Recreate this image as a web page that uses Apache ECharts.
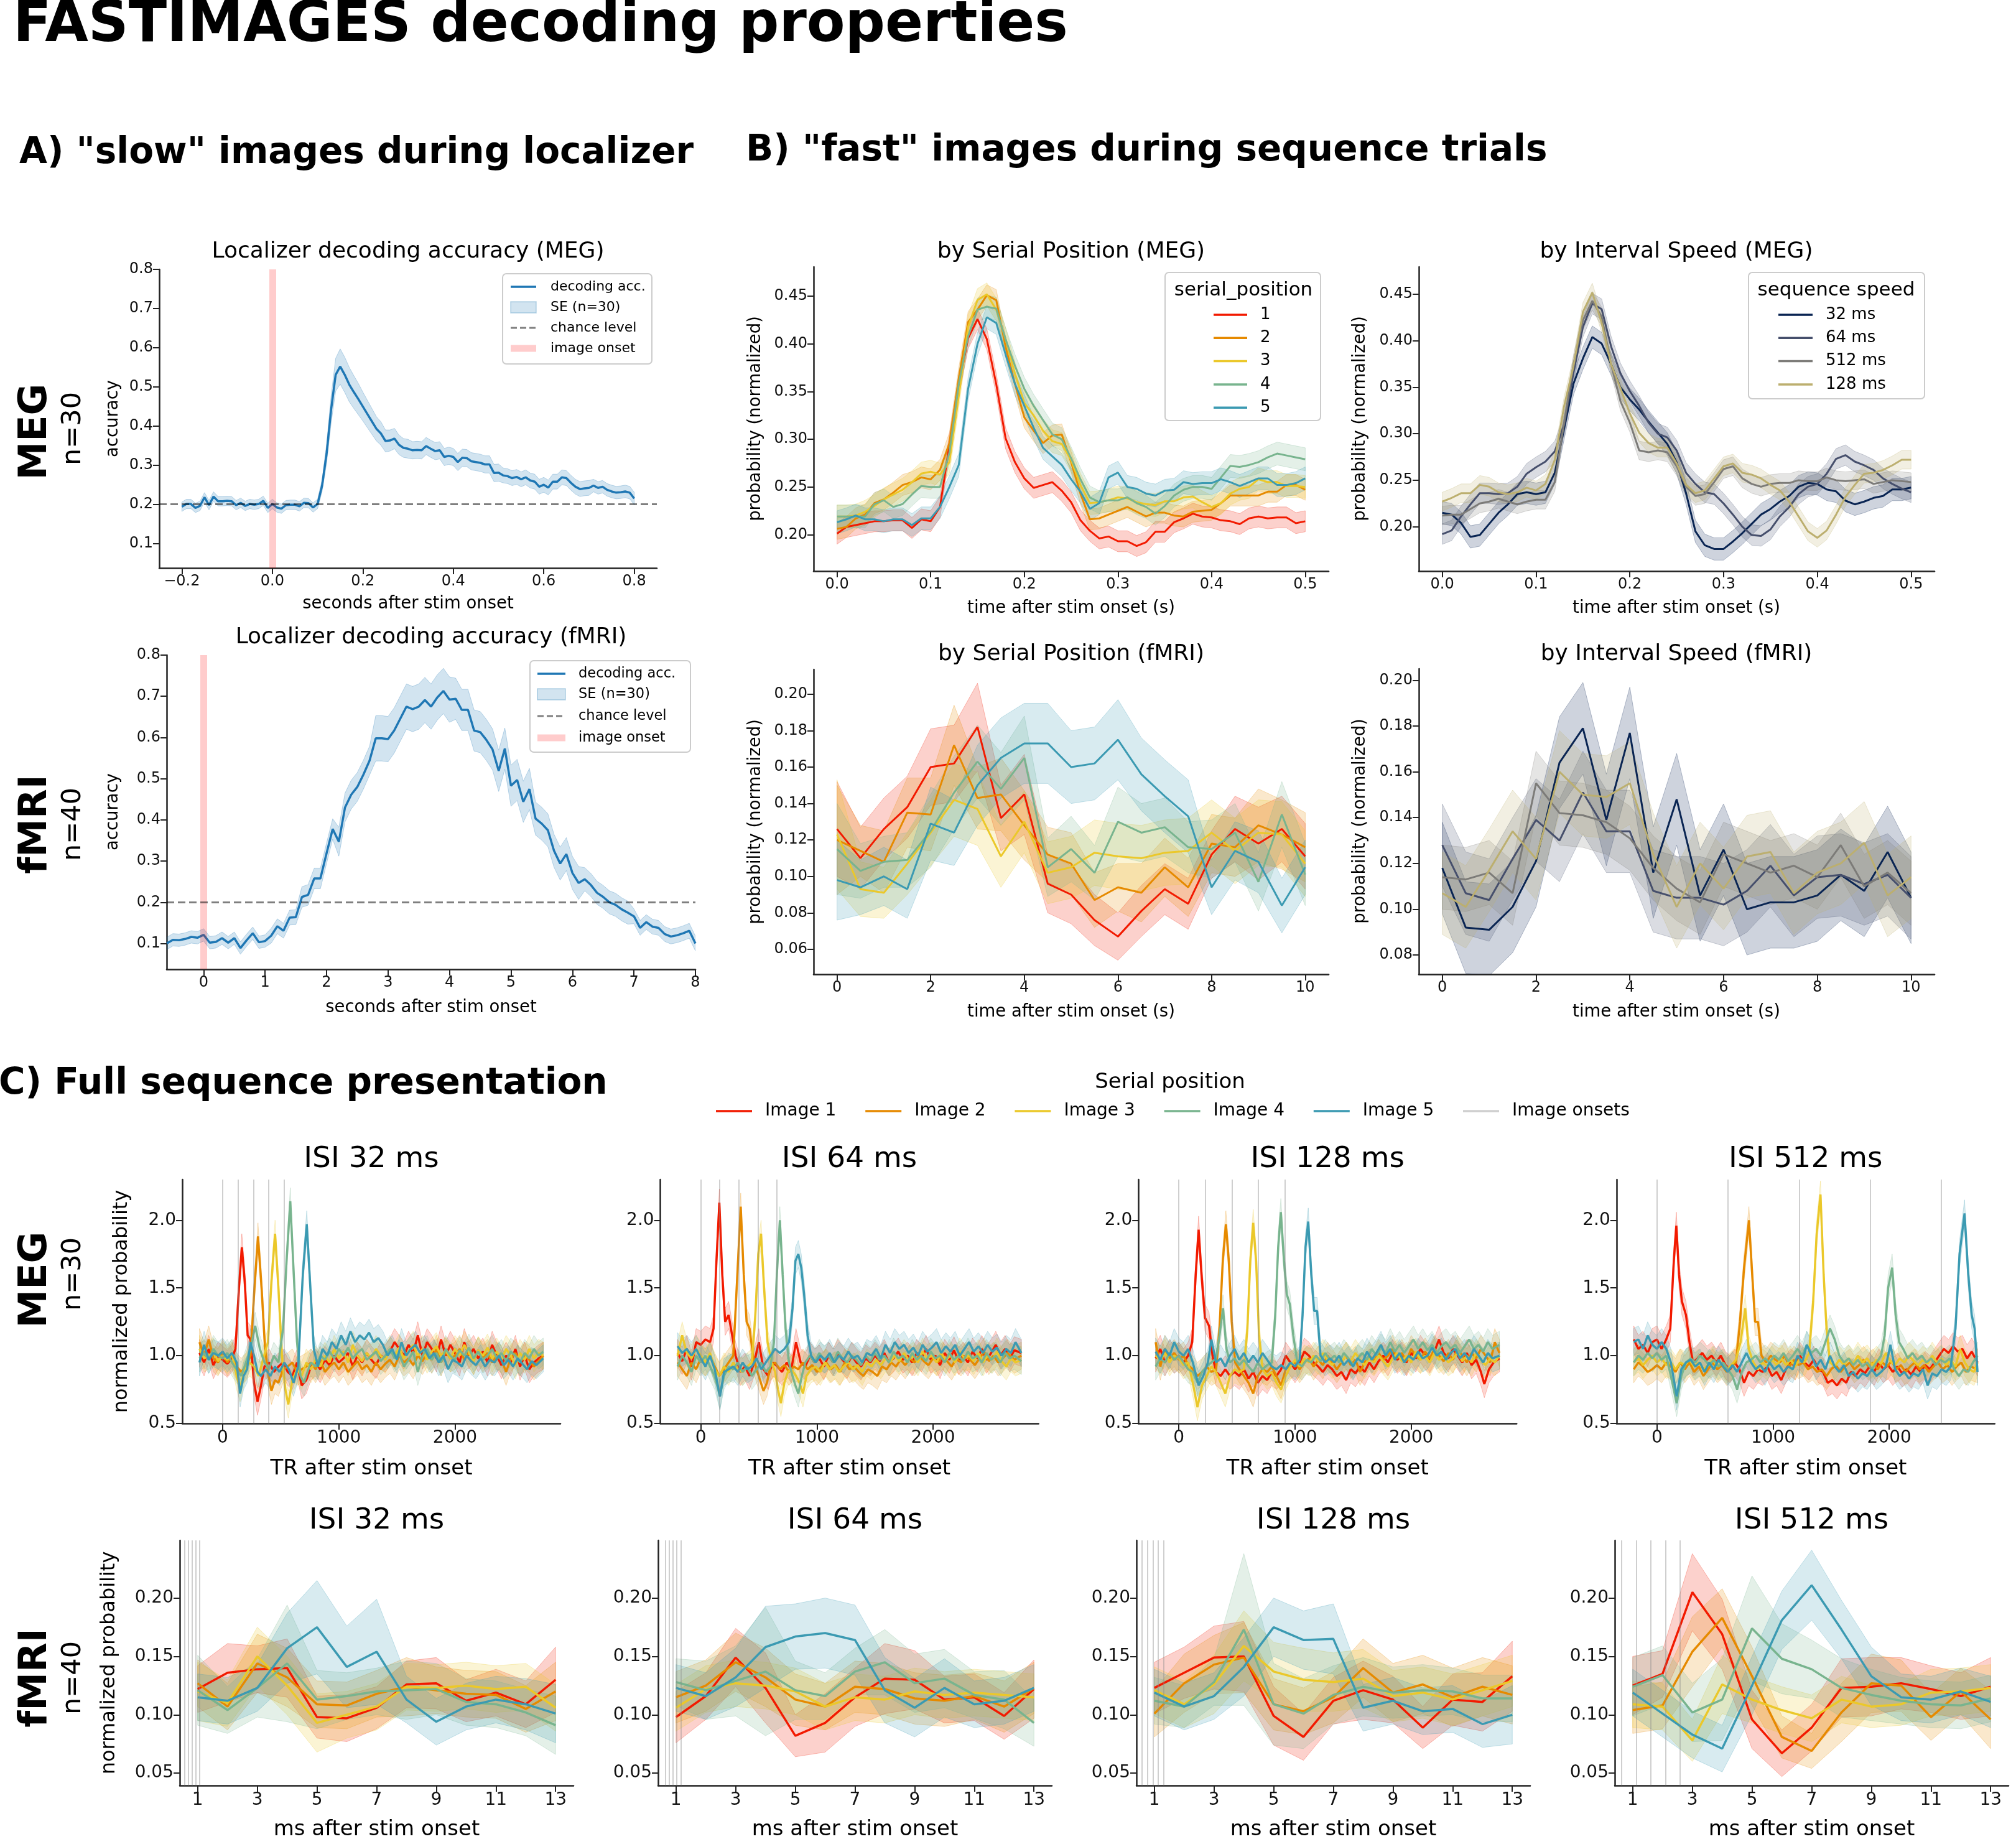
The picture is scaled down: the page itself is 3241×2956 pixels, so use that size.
<!DOCTYPE html>
<html>
<head>
<meta charset="utf-8">
<script src="https://cdn.jsdelivr.net/npm/echarts@6/dist/echarts.min.js"></script>
<style>
html, body { margin: 0; padding: 0; background: #fff; }
#main { width: 3241px; height: 2956px; }
</style>
</head>
<body>
<div id="main"></div>
<script>
// ---------------- data ----------------

// A) localizer decoding accuracy (MEG), -0.2 .. 0.8 s in 10 ms steps
const locMegAcc = [
  0.194,0.201,0.201,0.191,0.196,0.218,0.198,0.220,0.208,0.208,
  0.209,0.208,0.198,0.204,0.196,0.201,0.199,0.201,0.209,0.191,
  0.201,0.192,0.189,0.198,0.199,0.199,0.195,0.204,0.203,0.192,
  0.201,0.248,0.330,0.443,0.531,0.552,0.531,0.506,0.487,0.469,
  0.450,0.431,0.412,0.393,0.381,0.362,0.363,0.368,0.352,0.344,
  0.342,0.338,0.339,0.338,0.349,0.342,0.336,0.338,0.321,0.324,
  0.321,0.308,0.319,0.318,0.310,0.308,0.306,0.302,0.302,0.280,
  0.281,0.274,0.272,0.267,0.270,0.264,0.269,0.261,0.258,0.245,
  0.250,0.243,0.258,0.258,0.269,0.267,0.255,0.245,0.239,0.241,
  0.242,0.248,0.242,0.245,0.237,0.233,0.230,0.231,0.233,0.230,
  0.215];
const locMegSe = [
  0.012,0.012,0.012,0.012,0.012,0.012,0.012,0.012,0.012,0.012,
  0.012,0.012,0.012,0.012,0.012,0.012,0.012,0.012,0.012,0.012,
  0.012,0.012,0.012,0.012,0.012,0.012,0.012,0.012,0.012,0.012,
  0.012,0.015,0.025,0.035,0.042,0.045,0.045,0.044,0.042,0.040,
  0.037,0.035,0.033,0.031,0.030,0.028,0.027,0.026,0.025,0.024,
  0.024,0.022,0.022,0.022,0.022,0.022,0.022,0.022,0.022,0.022,
  0.022,0.022,0.022,0.022,0.022,0.022,0.022,0.022,0.022,0.022,
  0.022,0.019,0.019,0.019,0.019,0.019,0.019,0.019,0.019,0.019,
  0.019,0.019,0.019,0.019,0.019,0.019,0.019,0.019,0.019,0.019,
  0.019,0.016,0.016,0.016,0.016,0.016,0.016,0.016,0.016,0.016,
  0.016];

// A) localizer decoding accuracy (fMRI), -0.6 .. 8 s in 0.1 s steps
const locFmriAcc = [
  0.100,0.109,0.108,0.111,0.116,0.114,0.121,0.102,0.104,0.113,
  0.102,0.113,0.089,0.108,0.125,0.103,0.106,0.119,0.142,0.131,
  0.163,0.164,0.213,0.218,0.258,0.258,0.319,0.378,0.347,0.430,
  0.461,0.480,0.510,0.544,0.598,0.598,0.596,0.617,0.646,0.675,
  0.669,0.675,0.691,0.675,0.697,0.713,0.692,0.694,0.667,0.667,
  0.617,0.613,0.594,0.571,0.519,0.573,0.483,0.497,0.444,0.475,
  0.403,0.391,0.375,0.325,0.294,0.317,0.271,0.247,0.256,0.242,
  0.223,0.213,0.200,0.194,0.183,0.175,0.166,0.138,0.152,0.141,
  0.138,0.123,0.117,0.120,0.125,0.131,0.100];
const locFmriSe = [
  0.015,0.015,0.015,0.015,0.015,0.015,0.015,0.015,0.015,0.015,
  0.015,0.015,0.015,0.015,0.015,0.015,0.015,0.018,0.018,0.018,
  0.018,0.018,0.025,0.025,0.025,0.025,0.025,0.025,0.035,0.035,
  0.035,0.035,0.035,0.035,0.055,0.055,0.055,0.055,0.055,0.055,
  0.055,0.055,0.055,0.055,0.055,0.055,0.055,0.050,0.050,0.050,
  0.050,0.050,0.050,0.050,0.050,0.050,0.050,0.050,0.050,0.050,
  0.040,0.040,0.040,0.040,0.040,0.040,0.040,0.040,0.028,0.028,
  0.028,0.028,0.028,0.028,0.028,0.028,0.018,0.018,0.018,0.018,
  0.018,0.018,0.018,0.018,0.018,0.018,0.018];

// B) MEG, 0 .. 0.5 s in 10 ms steps, serial positions 1-5
const serMeg1 = [0.201,0.208,0.210,0.212,0.214,0.214,0.215,0.215,0.207,0.216,0.214,0.229,0.294,0.356,0.406,0.426,0.405,0.358,0.301,0.276,0.259,0.249,0.252,0.255,0.246,0.234,0.215,0.204,0.196,0.198,0.193,0.193,0.188,0.192,0.203,0.203,0.213,0.217,0.222,0.219,0.218,0.215,0.214,0.211,0.217,0.219,0.217,0.218,0.218,0.212,0.214];
const serMeg2 = [0.206,0.208,0.217,0.221,0.233,0.237,0.244,0.252,0.255,0.260,0.258,0.268,0.296,0.364,0.423,0.436,0.451,0.446,0.397,0.358,0.323,0.309,0.296,0.304,0.305,0.276,0.243,0.216,0.217,0.221,0.225,0.229,0.224,0.219,0.223,0.223,0.220,0.219,0.224,0.225,0.226,0.233,0.241,0.241,0.241,0.241,0.245,0.245,0.252,0.252,0.247];
const serMeg3 = [0.219,0.219,0.220,0.224,0.230,0.237,0.242,0.247,0.255,0.264,0.266,0.263,0.276,0.345,0.418,0.446,0.452,0.436,0.405,0.369,0.338,0.325,0.309,0.298,0.295,0.278,0.252,0.233,0.234,0.236,0.239,0.238,0.234,0.232,0.231,0.235,0.235,0.239,0.240,0.234,0.229,0.233,0.243,0.248,0.250,0.258,0.255,0.255,0.251,0.251,0.250];
const serMeg4 = [0.219,0.219,0.219,0.219,0.232,0.236,0.229,0.232,0.242,0.251,0.250,0.250,0.286,0.358,0.408,0.436,0.439,0.437,0.405,0.377,0.353,0.335,0.320,0.305,0.300,0.280,0.258,0.239,0.234,0.236,0.236,0.239,0.233,0.229,0.222,0.230,0.241,0.247,0.250,0.250,0.248,0.260,0.272,0.271,0.273,0.276,0.281,0.285,0.283,0.281,0.279];
const serMeg5 = [0.213,0.216,0.220,0.216,0.216,0.214,0.216,0.216,0.210,0.217,0.217,0.229,0.250,0.273,0.353,0.400,0.428,0.422,0.389,0.358,0.335,0.312,0.291,0.282,0.273,0.258,0.245,0.227,0.233,0.260,0.265,0.250,0.248,0.243,0.241,0.246,0.247,0.255,0.253,0.254,0.254,0.258,0.255,0.251,0.255,0.259,0.259,0.252,0.252,0.254,0.259];
const serMegSe = [0.011, 0.011, 0.012, 0.012, 0.012];

// B) MEG by interval speed (legend order 32, 64, 512, 128 ms)
const spdMeg32 = [0.215,0.213,0.204,0.189,0.191,0.203,0.215,0.224,0.235,0.237,0.235,0.237,0.258,0.306,0.354,0.381,0.404,0.397,0.375,0.350,0.337,0.326,0.313,0.301,0.289,0.269,0.236,0.195,0.180,0.176,0.176,0.184,0.193,0.203,0.213,0.219,0.227,0.233,0.243,0.247,0.246,0.240,0.238,0.228,0.224,0.227,0.231,0.233,0.240,0.240,0.242];
const spdMeg64 = [0.192,0.196,0.211,0.224,0.236,0.236,0.235,0.236,0.243,0.257,0.264,0.270,0.281,0.310,0.366,0.415,0.440,0.434,0.394,0.365,0.346,0.330,0.312,0.300,0.296,0.282,0.258,0.246,0.237,0.235,0.225,0.213,0.200,0.191,0.190,0.197,0.211,0.221,0.235,0.243,0.246,0.257,0.273,0.277,0.270,0.266,0.261,0.252,0.246,0.241,0.237];
const spdMeg512 = [0.212,0.213,0.213,0.219,0.225,0.227,0.230,0.227,0.224,0.227,0.229,0.229,0.248,0.312,0.375,0.422,0.443,0.426,0.375,0.335,0.312,0.282,0.280,0.282,0.280,0.265,0.243,0.233,0.235,0.248,0.262,0.265,0.252,0.246,0.243,0.246,0.247,0.247,0.250,0.249,0.249,0.253,0.250,0.249,0.250,0.251,0.246,0.248,0.250,0.249,0.248];
const spdMeg128 = [0.227,0.231,0.236,0.236,0.245,0.243,0.237,0.235,0.237,0.242,0.239,0.246,0.272,0.330,0.373,0.431,0.452,0.419,0.375,0.349,0.322,0.301,0.290,0.285,0.285,0.268,0.245,0.236,0.239,0.252,0.265,0.268,0.258,0.256,0.252,0.245,0.239,0.227,0.211,0.195,0.188,0.196,0.213,0.232,0.245,0.257,0.258,0.261,0.266,0.272,0.272];
const spdMegSe = [0.012, 0.011, 0.010, 0.010];

// B) fMRI, 0 .. 10 s in 0.5 s steps
const serFmri1 = [0.126,0.110,0.126,0.138,0.160,0.162,0.182,0.132,0.145,0.096,0.090,0.076,0.067,0.081,0.093,0.085,0.112,0.126,0.118,0.126,0.111];
const serFmri2 = [0.120,0.114,0.108,0.135,0.134,0.172,0.143,0.145,0.128,0.112,0.107,0.087,0.094,0.091,0.105,0.094,0.118,0.116,0.128,0.123,0.116];
const serFmri3 = [0.123,0.093,0.091,0.107,0.124,0.142,0.137,0.111,0.130,0.102,0.105,0.113,0.111,0.110,0.113,0.114,0.124,0.114,0.124,0.123,0.107];
const serFmri4 = [0.115,0.103,0.108,0.109,0.125,0.146,0.163,0.148,0.165,0.105,0.115,0.102,0.130,0.124,0.127,0.116,0.115,0.124,0.097,0.134,0.101];
const serFmri5 = [0.098,0.094,0.100,0.093,0.129,0.124,0.150,0.165,0.173,0.173,0.160,0.162,0.175,0.156,0.144,0.133,0.094,0.114,0.108,0.084,0.105];
const serFmriSe = [
  [0.026,0.017,0.017,0.017,0.021,0.021,0.024,0.018,0.022,0.016,0.016,0.014,0.013,0.014,0.014,0.014,0.013,0.018,0.020,0.018,0.018],
  [0.030,0.014,0.017,0.019,0.020,0.022,0.017,0.020,0.019,0.015,0.017,0.015,0.013,0.016,0.016,0.016,0.016,0.016,0.020,0.019,0.019],
  [0.030,0.015,0.014,0.017,0.018,0.020,0.020,0.017,0.017,0.017,0.017,0.018,0.018,0.018,0.018,0.018,0.018,0.018,0.018,0.018,0.018],
  [0.025,0.015,0.014,0.015,0.020,0.020,0.020,0.020,0.023,0.016,0.018,0.015,0.019,0.016,0.016,0.014,0.016,0.016,0.016,0.018,0.017],
  [0.022,0.015,0.016,0.016,0.020,0.018,0.022,0.022,0.022,0.022,0.020,0.020,0.022,0.020,0.020,0.020,0.015,0.016,0.017,0.015,0.015]];
const spdFmri32 = [0.118,0.092,0.091,0.101,0.121,0.164,0.179,0.139,0.177,0.116,0.148,0.106,0.126,0.100,0.103,0.103,0.106,0.115,0.108,0.125,0.105];
const spdFmri64 = [0.128,0.107,0.104,0.122,0.139,0.130,0.151,0.134,0.134,0.108,0.105,0.105,0.102,0.108,0.119,0.106,0.114,0.115,0.111,0.115,0.105];
const spdFmri512 = [0.114,0.113,0.116,0.107,0.155,0.142,0.141,0.138,0.131,0.118,0.109,0.103,0.124,0.120,0.116,0.119,0.114,0.128,0.110,0.116,0.107];
const spdFmri128 = [0.107,0.101,0.117,0.134,0.122,0.160,0.150,0.149,0.155,0.124,0.101,0.120,0.109,0.123,0.125,0.107,0.116,0.120,0.129,0.106,0.114];
const spdFmriSe = [0.020, 0.018, 0.014, 0.018];

// C) MEG full sequence, [ms, normalized probability]
const isi32Img1 = [[-200,1.02],[-160,0.95],[-120,1.05],[-80,0.93],[-40,1.0],[0,0.97],[40,0.94],[80,0.98],[110,1.05],[140,1.5],[165,1.8],[190,1.55],[215,1.15],[240,1.12],[270,0.8],[300,0.66],[330,0.78],[360,0.92],[400,0.95],[440,0.88],[480,0.92],[520,0.95],[560,0.88],[600,0.85],[640,0.95],[680,0.78],[720,0.82],[760,0.92],[800,0.95],[840,0.9],[880,0.97],[920,0.93],[960,1.0],[1000,0.95],[1040,0.98],[1080,1.02],[1120,0.92],[1160,1.0],[1200,0.95],[1240,1.02],[1280,0.97],[1320,0.93],[1360,1.0],[1400,0.98],[1440,1.03],[1480,1.1],[1520,1.05],[1560,1.0],[1600,1.08],[1640,1.02],[1680,1.15],[1720,1.0],[1760,1.1],[1800,1.05],[1840,0.98],[1880,1.12],[1920,1.0],[1960,1.08],[2000,1.02],[2040,0.95],[2080,1.1],[2120,1.0],[2160,1.05],[2200,0.98],[2240,1.03],[2280,0.95],[2320,1.08],[2360,1.0],[2400,0.93],[2440,1.0],[2480,0.95],[2520,1.05],[2560,0.92],[2600,1.0],[2640,0.9],[2680,0.95],[2720,0.98],[2760,1.0]];
const isi32Img2 = [[-200,1.1],[-160,1.0],[-120,1.12],[-80,0.98],[-40,0.95],[0,1.02],[40,0.95],[80,1.0],[120,0.92],[160,0.88],[200,0.92],[240,1.0],[270,1.45],[304,1.88],[335,1.5],[365,1.05],[395,0.85],[420,0.74],[450,0.82],[480,0.8],[520,0.9],[560,0.92],[600,0.95],[640,0.88],[680,0.9],[720,0.92],[760,0.95],[800,0.9],[840,0.97],[880,0.88],[920,0.92],[960,0.95],[1000,0.9],[1040,0.95],[1080,0.88],[1120,0.92],[1160,0.96],[1200,0.9],[1240,0.93],[1280,0.88],[1320,0.95],[1360,0.9],[1400,0.94],[1440,0.97],[1480,0.92],[1520,1.0],[1560,0.95],[1600,0.98],[1640,0.93],[1680,1.0],[1720,0.96],[1760,1.02],[1800,0.97],[1840,1.05],[1880,0.95],[1920,1.03],[1960,0.98],[2000,1.0],[2040,1.05],[2080,0.97],[2120,1.02],[2160,0.96],[2200,1.04],[2240,0.98],[2280,1.02],[2320,0.95],[2360,1.0],[2400,0.97],[2440,0.88],[2480,0.98],[2520,1.02],[2560,0.95],[2600,1.0],[2640,0.97],[2680,0.92],[2720,0.96],[2760,1.0]];
const isi32Img3 = [[-200,1.05],[-160,0.98],[-120,1.0],[-80,1.03],[-40,0.96],[0,1.0],[40,0.97],[80,1.02],[120,0.85],[150,0.76],[190,0.9],[230,0.95],[270,0.92],[310,0.85],[350,0.98],[390,1.1],[420,1.55],[451,1.9],[480,1.5],[510,1.0],[540,0.75],[565,0.64],[600,0.82],[640,0.9],[680,0.85],[720,0.95],[760,0.9],[800,0.97],[840,0.92],[880,1.0],[920,0.95],[960,1.05],[1000,0.98],[1040,1.03],[1080,0.95],[1120,1.08],[1160,1.0],[1200,0.96],[1240,1.02],[1280,0.98],[1320,1.05],[1360,1.0],[1400,0.97],[1440,1.04],[1480,1.0],[1520,1.06],[1560,0.98],[1600,1.03],[1640,1.08],[1680,1.0],[1720,1.05],[1760,0.97],[1800,1.03],[1840,1.07],[1880,1.0],[1920,1.04],[1960,0.98],[2000,1.05],[2040,1.0],[2080,1.08],[2120,1.02],[2160,0.96],[2200,1.04],[2240,1.0],[2280,1.06],[2320,0.98],[2360,1.03],[2400,0.97],[2440,1.05],[2480,1.0],[2520,0.93],[2560,1.02],[2600,0.97],[2640,1.05],[2680,0.98],[2720,1.02],[2760,1.0]];
const isi32Img4 = [[-200,0.98],[-160,1.02],[-120,0.97],[-80,1.05],[-40,1.0],[0,0.98],[40,1.02],[80,0.95],[120,0.9],[160,0.85],[200,0.95],[240,1.05],[280,1.22],[320,1.05],[360,0.95],[400,0.9],[440,1.0],[480,0.95],[520,1.2],[550,1.7],[582,2.14],[612,1.6],[640,1.1],[670,0.85],[700,0.8],[730,0.88],[760,0.95],[800,0.92],[840,1.0],[880,0.97],[920,1.03],[960,0.98],[1000,1.05],[1040,1.0],[1080,1.06],[1120,0.98],[1160,1.02],[1200,1.05],[1240,0.97],[1280,1.0],[1320,1.03],[1360,0.96],[1400,1.0],[1440,1.05],[1480,0.98],[1520,1.02],[1560,0.92],[1600,0.97],[1640,1.03],[1680,0.88],[1720,1.0],[1760,1.05],[1800,0.97],[1840,1.02],[1880,0.95],[1920,1.05],[1960,1.0],[2000,0.97],[2040,1.04],[2080,1.0],[2120,1.06],[2160,0.98],[2200,1.03],[2240,0.97],[2280,1.0],[2320,1.05],[2360,0.98],[2400,1.02],[2440,0.96],[2480,1.03],[2520,1.0],[2560,0.95],[2600,1.02],[2640,0.98],[2680,1.05],[2720,1.0],[2760,1.03]];
const isi32Img5 = [[-200,0.95],[-160,1.08],[-120,0.97],[-80,1.02],[-40,1.0],[0,1.03],[40,0.98],[80,1.02],[120,0.95],[150,0.72],[180,0.85],[210,0.9],[240,1.1],[270,1.0],[300,0.88],[330,0.85],[370,0.9],[410,0.85],[450,0.92],[490,0.88],[530,0.95],[570,0.9],[610,0.8],[650,0.92],[690,1.6],[724,1.97],[755,1.5],[785,1.05],[820,0.92],[860,1.05],[900,1.0],[940,1.1],[980,1.05],[1020,1.15],[1060,1.08],[1100,1.18],[1140,1.1],[1180,1.15],[1220,1.12],[1260,1.17],[1300,1.1],[1340,1.13],[1380,1.08],[1420,1.0],[1460,1.05],[1500,0.97],[1540,1.1],[1580,1.0],[1620,1.05],[1660,1.08],[1700,1.02],[1740,1.05],[1780,0.98],[1820,1.02],[1860,0.95],[1900,1.0],[1940,0.9],[1980,0.97],[2020,0.95],[2060,0.92],[2100,1.0],[2140,0.96],[2180,0.93],[2220,0.98],[2260,0.92],[2300,0.97],[2340,0.95],[2380,1.0],[2420,0.93],[2460,0.97],[2500,0.92],[2540,0.98],[2580,0.94],[2620,0.9],[2660,0.96],[2700,0.93],[2760,0.98]];

const isi64Img1 = [[-200,1.02],[-160,0.96],[-120,1.05],[-80,0.92],[-40,1.1],[0,1.08],[40,1.12],[80,1.1],[110,1.2],[135,1.7],[160,2.13],[185,1.6],[210,1.25],[240,1.3],[270,1.15],[300,1.0],[340,0.88],[380,0.92],[420,0.85],[460,0.95],[500,1.1],[540,0.9],[580,0.85],[620,0.95],[660,0.92],[700,0.88],[740,0.95],[780,0.9],[820,1.1],[860,0.95],[900,0.92],[940,1.0],[980,0.95],[1020,0.98],[1060,0.92],[1100,1.0],[1140,0.95],[1180,1.02],[1220,0.97],[1260,0.93],[1300,1.0],[1340,0.95],[1380,0.92],[1420,0.98],[1460,0.95],[1500,1.0],[1540,0.96],[1580,1.02],[1620,0.95],[1660,0.98],[1700,1.03],[1740,0.97],[1780,1.0],[1820,0.95],[1860,1.02],[1900,0.98],[1940,1.05],[1980,0.97],[2020,1.0],[2060,0.93],[2100,1.02],[2140,0.97],[2180,1.04],[2220,0.96],[2260,1.0],[2300,0.95],[2340,1.03],[2380,0.98],[2420,1.05],[2460,0.97],[2500,1.02],[2540,1.08],[2580,1.0],[2620,1.05],[2660,0.98],[2700,1.04],[2760,1.02]];
const isi64Img2 = [[-200,0.95],[-160,0.9],[-120,0.85],[-80,0.95],[-40,0.9],[0,0.98],[40,0.95],[80,1.0],[120,0.92],[160,0.85],[200,0.9],[240,0.95],[280,1.0],[315,1.6],[344,2.1],[370,1.6],[395,1.25],[420,1.2],[450,1.0],[480,0.9],[510,0.82],[540,0.74],[570,0.8],[600,0.92],[640,0.95],[680,0.9],[720,0.93],[760,0.88],[800,0.92],[840,0.9],[880,0.95],[920,0.9],[960,0.93],[1000,0.88],[1040,0.92],[1080,0.95],[1120,0.9],[1160,0.93],[1200,0.88],[1240,0.95],[1280,0.9],[1320,0.92],[1360,0.88],[1400,0.85],[1440,0.9],[1480,0.88],[1520,0.85],[1560,0.92],[1600,0.9],[1640,0.95],[1680,0.92],[1720,0.97],[1760,0.93],[1800,0.98],[1840,0.95],[1880,1.0],[1920,0.96],[1960,0.93],[2000,0.98],[2040,0.95],[2080,1.0],[2120,0.96],[2160,0.92],[2200,0.98],[2240,0.95],[2280,1.0],[2320,0.97],[2360,0.93],[2400,0.98],[2440,1.03],[2480,0.96],[2520,1.0],[2560,0.95],[2600,0.98],[2640,1.02],[2700,0.97],[2760,1.0]];
const isi64Img3 = [[-200,1.0],[-160,1.15],[-120,1.02],[-80,0.98],[-40,1.05],[0,1.0],[40,0.95],[80,1.02],[120,0.9],[160,0.85],[200,0.92],[240,0.88],[280,0.95],[320,0.9],[360,0.88],[400,0.92],[440,0.95],[470,1.3],[495,1.75],[519,1.9],[545,1.5],[575,1.1],[610,0.95],[640,0.88],[665,0.75],[690,0.65],[720,0.8],[750,0.88],[780,0.9],[820,0.85],[850,0.8],[880,0.72],[910,0.85],[950,0.9],[990,0.92],[1030,0.88],[1070,0.95],[1110,0.9],[1150,0.93],[1190,0.88],[1230,0.92],[1270,0.95],[1310,0.9],[1350,0.93],[1390,0.88],[1430,0.95],[1470,0.92],[1510,0.97],[1550,0.93],[1590,0.98],[1630,0.95],[1670,1.0],[1710,0.96],[1750,1.02],[1790,0.97],[1830,1.0],[1870,0.95],[1910,1.03],[1950,0.98],[1990,1.0],[2030,0.95],[2070,1.02],[2110,0.97],[2150,1.0],[2190,0.95],[2230,1.03],[2270,0.98],[2310,1.0],[2350,0.96],[2390,1.02],[2430,0.95],[2470,1.0],[2510,0.97],[2550,1.03],[2590,0.96],[2630,0.92],[2670,0.98],[2710,0.95],[2760,0.97]];
const isi64Img4 = [[-200,0.92],[-160,1.0],[-120,0.95],[-80,0.88],[-40,1.0],[0,0.95],[40,1.0],[80,0.92],[120,0.85],[165,0.7],[200,0.85],[240,0.92],[280,0.9],[320,0.95],[360,0.88],[400,0.92],[440,0.85],[480,0.9],[520,0.95],[560,0.88],[600,0.92],[630,1.1],[655,1.6],[681,2.0],[705,1.6],[730,1.2],[760,0.95],[790,0.85],[815,0.78],[840,0.72],[870,0.85],[900,0.95],[940,1.0],[980,0.95],[1020,1.02],[1060,0.97],[1100,1.0],[1140,0.95],[1180,1.03],[1220,0.98],[1260,0.95],[1300,1.0],[1340,0.97],[1380,0.93],[1420,1.0],[1460,0.96],[1500,1.02],[1540,0.97],[1580,1.0],[1620,0.95],[1660,1.03],[1700,0.98],[1740,1.0],[1780,0.95],[1820,1.02],[1860,0.97],[1900,1.0],[1940,0.96],[1980,1.03],[2020,0.98],[2060,1.0],[2100,0.95],[2140,1.02],[2180,0.97],[2220,1.0],[2260,0.96],[2300,1.03],[2340,0.98],[2380,1.0],[2420,0.95],[2460,1.02],[2500,0.97],[2540,1.0],[2580,0.95],[2620,1.02],[2660,0.98],[2700,1.0],[2760,0.96]];
const isi64Img5 = [[-200,1.07],[-160,1.02],[-120,1.05],[-80,1.0],[-40,1.05],[0,0.98],[40,0.92],[80,1.0],[120,0.9],[165,0.7],[200,0.88],[240,0.9],[280,0.92],[320,0.88],[360,0.95],[400,0.9],[440,0.92],[480,0.98],[520,0.9],[560,0.95],[600,1.0],[640,1.05],[680,1.02],[720,1.05],[760,1.1],[790,1.35],[815,1.7],[840,1.75],[865,1.65],[890,1.45],[920,1.15],[950,1.0],[990,0.95],[1030,1.0],[1070,0.97],[1110,1.02],[1150,0.95],[1190,1.0],[1230,0.97],[1270,1.03],[1310,0.98],[1350,1.0],[1390,0.95],[1430,1.02],[1470,1.0],[1510,1.05],[1550,0.98],[1590,1.08],[1630,1.02],[1670,1.1],[1710,1.05],[1750,1.08],[1790,1.02],[1830,1.06],[1870,1.0],[1910,1.08],[1950,1.03],[1990,1.06],[2030,1.1],[2070,1.02],[2110,1.07],[2150,1.03],[2190,1.08],[2230,1.0],[2270,1.05],[2310,1.1],[2350,1.03],[2390,1.07],[2430,1.02],[2470,1.08],[2510,1.03],[2550,1.06],[2590,1.0],[2630,1.05],[2670,1.02],[2710,1.1],[2760,1.02]];

const isi128Img1 = [[-200,0.98],[-160,1.05],[-120,0.95],[-80,1.02],[-40,0.97],[0,1.0],[40,0.95],[80,1.0],[115,1.1],[145,1.6],[170,1.93],[195,1.6],[225,1.28],[260,1.22],[290,1.0],[320,0.88],[360,0.85],[400,0.9],[440,0.85],[480,0.88],[520,0.85],[560,0.9],[600,0.83],[640,0.88],[680,0.8],[720,0.85],[760,0.82],[800,0.88],[840,0.85],[880,0.9],[920,1.0],[960,0.95],[1000,0.9],[1040,0.95],[1080,1.03],[1120,1.0],[1160,0.95],[1200,0.92],[1240,0.88],[1280,0.93],[1320,0.9],[1360,0.85],[1400,0.88],[1440,0.82],[1480,0.9],[1520,0.87],[1560,0.92],[1600,0.88],[1640,0.95],[1680,0.9],[1720,0.96],[1760,1.0],[1800,0.95],[1840,1.02],[1880,0.97],[1920,1.0],[1960,0.95],[2000,1.02],[2040,0.98],[2080,1.05],[2120,1.0],[2160,0.97],[2200,1.03],[2240,1.12],[2280,1.02],[2320,0.98],[2360,1.05],[2400,1.0],[2440,0.95],[2480,1.02],[2520,0.93],[2560,0.97],[2600,0.88],[2630,0.79],[2670,0.9],[2710,0.95],[2760,0.98]];
const isi128Img2 = [[-200,1.1],[-160,0.92],[-120,1.05],[-80,0.98],[-40,1.02],[0,0.97],[40,1.0],[80,0.93],[120,0.9],[160,0.85],[200,0.88],[240,0.92],[280,0.88],[320,0.9],[350,1.2],[378,1.7],[405,1.97],[430,1.7],[455,1.25],[485,0.95],[520,0.9],[560,0.85],[600,0.8],[640,0.72],[680,0.85],[720,0.9],[760,0.88],[800,0.92],[840,0.85],[880,0.78],[920,0.9],[960,0.93],[1000,0.95],[1040,0.9],[1080,0.95],[1120,0.98],[1160,0.92],[1200,0.97],[1240,0.93],[1280,1.0],[1320,0.95],[1360,0.9],[1400,0.95],[1440,1.0],[1480,0.93],[1520,0.97],[1560,0.88],[1600,0.95],[1640,1.0],[1680,0.96],[1720,1.02],[1760,0.97],[1800,1.0],[1840,1.05],[1880,0.98],[1920,1.02],[1960,0.96],[2000,1.05],[2040,1.0],[2080,0.97],[2120,1.03],[2160,0.98],[2200,1.05],[2240,1.0],[2280,0.96],[2320,1.02],[2360,0.97],[2400,1.05],[2440,1.0],[2480,0.95],[2520,1.02],[2560,0.98],[2600,1.05],[2640,1.0],[2680,0.95],[2720,1.1],[2760,1.02]];
const isi128Img3 = [[-200,1.0],[-160,0.97],[-120,1.02],[-80,0.95],[-40,1.0],[0,0.98],[40,0.93],[80,0.95],[120,0.8],[160,0.62],[200,0.78],[240,0.85],[280,0.92],[320,0.88],[360,0.8],[400,0.72],[440,0.85],[480,0.9],[520,0.88],[560,0.9],[590,1.2],[615,1.7],[640,1.98],[665,1.7],[690,1.15],[720,0.9],[760,0.85],[800,0.88],[840,0.8],[880,0.75],[920,0.85],[960,0.92],[1000,0.97],[1040,0.92],[1080,0.98],[1120,0.95],[1160,1.0],[1200,0.96],[1240,1.02],[1280,0.97],[1320,0.93],[1360,0.98],[1400,0.95],[1440,1.0],[1480,0.96],[1520,1.02],[1560,0.97],[1600,0.93],[1640,0.98],[1680,0.95],[1720,1.0],[1760,0.96],[1800,0.92],[1840,0.98],[1880,1.02],[1920,0.96],[1960,1.0],[2000,0.95],[2040,1.03],[2080,0.97],[2120,1.0],[2160,0.95],[2200,1.02],[2240,0.97],[2280,1.0],[2320,0.95],[2360,0.98],[2400,1.02],[2440,0.96],[2480,1.0],[2520,0.95],[2560,1.02],[2600,0.97],[2640,0.93],[2680,0.98],[2720,0.95],[2760,1.0]];
const isi128Img4 = [[-200,0.92],[-160,0.98],[-120,0.95],[-80,1.02],[-40,0.97],[0,1.0],[40,0.95],[80,0.9],[120,0.88],[160,0.8],[200,0.88],[240,0.92],[280,0.95],[320,0.98],[350,1.15],[380,1.35],[410,1.05],[440,0.95],[480,0.98],[520,0.93],[560,0.97],[600,0.92],[640,0.88],[680,0.95],[720,0.9],[760,0.93],[800,0.95],[830,1.3],[855,1.8],[878,2.06],[905,1.7],[930,1.45],[955,1.38],[985,1.15],[1020,0.95],[1060,0.92],[1100,0.97],[1140,0.95],[1180,1.0],[1220,0.96],[1260,1.02],[1300,0.97],[1340,1.0],[1380,0.95],[1420,1.02],[1460,0.98],[1500,0.93],[1540,0.98],[1580,1.02],[1620,0.97],[1660,1.05],[1700,1.0],[1740,1.06],[1780,1.02],[1820,1.1],[1860,1.03],[1900,1.08],[1940,1.02],[1980,1.07],[2020,1.12],[2060,1.05],[2100,1.1],[2140,1.04],[2180,1.08],[2220,1.02],[2260,1.07],[2300,1.1],[2340,1.05],[2380,1.08],[2420,1.02],[2460,1.07],[2500,1.12],[2540,1.05],[2580,1.08],[2620,1.03],[2660,1.1],[2700,1.05],[2760,1.08]];
const isi128Img5 = [[-200,1.03],[-160,0.97],[-120,1.05],[-80,1.0],[-40,1.1],[0,1.03],[40,1.0],[80,1.05],[120,0.95],[170,0.78],[210,0.85],[250,0.95],[280,1.12],[320,0.95],[360,0.98],[400,0.92],[440,1.0],[480,1.05],[520,0.97],[560,1.02],[600,0.95],[640,1.0],[680,0.95],[720,1.02],[760,0.97],[800,0.92],[840,0.9],[880,0.93],[920,0.9],[960,0.95],[1000,0.92],[1040,0.97],[1065,1.3],[1090,1.8],[1114,1.99],[1140,1.6],[1165,1.33],[1190,1.33],[1220,1.0],[1260,0.95],[1300,0.98],[1340,0.95],[1380,1.0],[1420,0.93],[1460,0.97],[1500,0.92],[1540,0.98],[1580,0.95],[1620,1.03],[1660,0.97],[1700,1.02],[1740,1.08],[1780,1.0],[1820,1.05],[1860,0.97],[1900,1.02],[1940,0.95],[1980,1.0],[2020,0.97],[2060,1.03],[2100,0.98],[2140,1.0],[2180,1.06],[2220,1.0],[2260,1.03],[2300,0.97],[2340,1.02],[2380,1.05],[2420,0.98],[2460,1.02],[2500,0.97],[2540,1.05],[2580,1.0],[2620,0.95],[2660,1.02],[2700,0.98],[2760,1.0]];

const isi512Img1 = [[-200,1.12],[-160,1.05],[-120,1.08],[-80,1.02],[-40,1.1],[0,1.12],[40,1.05],[80,1.12],[115,1.2],[145,1.7],[167,1.96],[190,1.6],[215,1.4],[250,1.3],[280,1.1],[310,0.95],[350,0.98],[390,1.02],[430,0.97],[470,1.0],[510,0.95],[550,1.0],[590,0.93],[630,0.9],[670,0.95],[710,0.9],[750,0.8],[790,0.88],[830,0.85],[870,0.9],[910,0.88],[950,0.92],[990,0.85],[1030,0.88],[1070,0.82],[1110,0.9],[1150,0.95],[1190,0.92],[1230,1.0],[1270,0.95],[1310,0.92],[1350,0.97],[1390,0.9],[1430,0.88],[1470,0.8],[1510,0.82],[1550,0.78],[1590,0.83],[1630,0.8],[1670,0.88],[1710,0.85],[1750,0.9],[1790,0.87],[1830,0.92],[1870,0.88],[1910,0.95],[1950,0.9],[1990,0.93],[2030,0.88],[2070,0.92],[2110,0.87],[2150,0.9],[2190,0.86],[2230,0.92],[2270,0.88],[2310,0.93],[2350,0.9],[2390,0.95],[2430,1.0],[2470,1.05],[2510,1.02],[2550,1.07],[2590,1.03],[2630,1.05],[2670,0.98],[2710,1.03],[2760,0.95]];
const isi512Img2 = [[-200,0.9],[-160,0.95],[-120,0.92],[-80,0.88],[-40,0.9],[0,0.93],[40,0.9],[80,0.95],[120,0.92],[160,0.88],[200,0.95],[240,0.9],[280,0.95],[320,0.88],[360,0.92],[400,0.85],[440,0.9],[480,0.95],[520,0.9],[560,0.93],[600,0.88],[640,0.92],[680,0.95],[715,1.25],[750,1.65],[792,2.0],[820,1.6],[845,1.25],[870,1.25],[900,1.0],[940,0.95],[980,1.0],[1020,0.97],[1060,0.95],[1100,1.0],[1140,0.92],[1180,0.97],[1220,0.93],[1260,0.95],[1300,0.9],[1340,0.92],[1380,0.88],[1420,0.9],[1460,0.85],[1500,0.9],[1540,0.93],[1580,0.88],[1620,0.92],[1660,0.95],[1700,0.9],[1740,0.93],[1780,0.97],[1820,0.92],[1860,0.95],[1900,0.9],[1940,0.95],[1980,0.92],[2020,0.96],[2060,0.9],[2100,0.93],[2140,0.88],[2180,0.92],[2220,0.95],[2260,0.9],[2300,0.93],[2340,0.88],[2380,0.92],[2420,0.95],[2460,0.9],[2500,0.93],[2540,0.88],[2580,0.92],[2620,0.95],[2660,0.88],[2700,0.92],[2760,0.9]];
const isi512Img3 = [[-200,0.95],[-160,0.98],[-120,0.93],[-80,0.97],[-40,1.0],[0,0.95],[40,0.98],[80,0.93],[120,0.95],[160,0.9],[200,0.95],[240,0.93],[280,0.97],[320,0.92],[360,0.95],[400,0.9],[440,0.93],[480,0.97],[520,0.92],[560,0.95],[600,0.9],[640,0.93],[680,0.97],[720,1.1],[760,1.35],[790,1.05],[830,0.95],[870,0.9],[910,0.95],[950,0.92],[990,0.97],[1030,0.93],[1070,0.98],[1110,0.93],[1150,0.97],[1190,0.92],[1230,0.98],[1270,0.95],[1310,1.02],[1345,1.4],[1375,1.9],[1408,2.19],[1435,1.6],[1460,1.2],[1490,0.95],[1530,0.92],[1570,0.97],[1610,0.93],[1650,0.98],[1690,0.94],[1730,1.0],[1770,0.95],[1810,0.98],[1850,0.93],[1890,0.97],[1930,0.94],[1970,1.02],[2010,0.96],[2050,0.93],[2090,0.98],[2130,0.95],[2170,1.0],[2210,0.96],[2250,0.93],[2290,0.97],[2330,0.94],[2370,1.0],[2410,0.95],[2450,0.98],[2490,0.93],[2530,0.97],[2570,0.92],[2610,1.05],[2650,0.95],[2690,0.9],[2730,0.88],[2760,0.95]];
const isi512Img4 = [[-200,0.95],[-160,1.0],[-120,0.97],[-80,1.02],[-40,0.98],[0,1.02],[40,0.97],[80,1.0],[120,0.85],[170,0.65],[210,0.85],[250,0.95],[290,0.98],[330,0.95],[370,1.0],[410,0.97],[450,0.93],[490,0.97],[530,0.92],[570,0.95],[610,0.9],[650,0.85],[690,0.75],[730,0.88],[770,0.95],[810,0.97],[850,1.0],[890,0.95],[930,0.98],[970,0.95],[1010,1.0],[1050,0.97],[1090,1.02],[1130,0.96],[1170,1.0],[1210,1.05],[1250,1.0],[1290,1.08],[1330,1.02],[1370,1.05],[1410,1.0],[1450,1.1],[1490,1.2],[1530,1.12],[1570,1.0],[1610,0.95],[1650,0.98],[1690,0.93],[1730,0.97],[1770,0.92],[1810,0.95],[1850,0.9],[1890,0.95],[1930,1.0],[1960,1.15],[1990,1.5],[2025,1.65],[2055,1.3],[2085,1.1],[2120,1.05],[2160,0.98],[2200,1.02],[2240,0.97],[2280,1.0],[2320,0.95],[2360,0.98],[2400,0.93],[2440,0.97],[2480,0.95],[2520,0.98],[2560,0.9],[2600,0.85],[2640,0.9],[2680,0.88],[2720,0.95],[2760,1.0]];
const isi512Img5 = [[-200,1.1],[-160,1.12],[-120,1.05],[-80,1.15],[-40,1.08],[0,1.05],[40,1.1],[80,1.05],[120,0.95],[170,0.7],[210,0.9],[250,0.95],[290,0.97],[330,0.92],[370,0.95],[410,0.88],[450,0.95],[490,0.9],[530,0.97],[570,0.92],[610,0.88],[650,0.93],[690,0.88],[730,0.95],[770,1.02],[810,0.95],[850,0.9],[890,0.93],[930,0.88],[970,0.95],[1010,0.9],[1050,0.93],[1090,0.88],[1130,0.92],[1170,0.9],[1210,1.0],[1250,0.95],[1290,1.08],[1330,1.0],[1370,0.92],[1410,0.97],[1450,0.9],[1490,1.0],[1530,0.92],[1570,0.88],[1610,0.93],[1650,0.85],[1690,0.88],[1730,0.83],[1770,0.87],[1810,0.85],[1850,0.9],[1890,0.85],[1930,0.88],[1970,0.92],[2010,1.08],[2050,0.9],[2090,0.85],[2130,0.88],[2170,0.83],[2210,0.87],[2250,0.85],[2290,0.9],[2330,0.78],[2370,0.87],[2410,0.85],[2450,0.9],[2490,0.88],[2530,0.92],[2570,1.2],[2605,1.75],[2648,2.05],[2680,1.6],[2710,1.3],[2735,1.2],[2760,0.88]];
const cMegSe = 0.1;

// C) fMRI full sequence, TR 1..13
const trFmri = [1,2,3,4,5,6,7,8,9,10,11,12,13];
const fm32 = [
  [0.122,0.136,0.139,0.140,0.098,0.097,0.106,0.126,0.127,0.112,0.119,0.109,0.130],
  [0.127,0.107,0.144,0.132,0.109,0.108,0.118,0.124,0.121,0.118,0.117,0.105,0.120],
  [0.120,0.110,0.150,0.125,0.093,0.100,0.107,0.124,0.123,0.125,0.122,0.124,0.106],
  [0.121,0.104,0.123,0.144,0.113,0.116,0.120,0.121,0.122,0.111,0.109,0.102,0.091],
  [0.115,0.112,0.123,0.157,0.175,0.141,0.154,0.113,0.094,0.107,0.113,0.109,0.101]];
const fm64 = [
  [0.098,0.116,0.149,0.123,0.082,0.093,0.115,0.131,0.130,0.113,0.115,0.099,0.122],
  [0.115,0.125,0.145,0.132,0.113,0.107,0.124,0.122,0.114,0.112,0.116,0.107,0.123],
  [0.106,0.122,0.127,0.125,0.120,0.107,0.115,0.113,0.120,0.117,0.119,0.117,0.115],
  [0.128,0.121,0.129,0.137,0.121,0.116,0.137,0.145,0.127,0.131,0.117,0.113,0.093],
  [0.123,0.116,0.132,0.158,0.167,0.170,0.164,0.121,0.106,0.123,0.109,0.112,0.123]];
const fm128 = [
  [0.123,0.136,0.149,0.150,0.099,0.081,0.112,0.121,0.113,0.089,0.113,0.111,0.133],
  [0.101,0.127,0.143,0.149,0.109,0.103,0.115,0.140,0.119,0.126,0.115,0.124,0.117],
  [0.121,0.109,0.126,0.159,0.137,0.130,0.128,0.131,0.116,0.119,0.113,0.121,0.129],
  [0.112,0.107,0.128,0.173,0.109,0.101,0.117,0.124,0.119,0.121,0.120,0.114,0.114],
  [0.119,0.107,0.116,0.141,0.175,0.164,0.165,0.106,0.112,0.103,0.105,0.092,0.100]];
const fm512 = [
  [0.125,0.135,0.205,0.169,0.096,0.067,0.089,0.123,0.124,0.127,0.122,0.116,0.124],
  [0.104,0.108,0.154,0.183,0.133,0.081,0.069,0.102,0.127,0.125,0.098,0.120,0.096],
  [0.109,0.107,0.078,0.126,0.113,0.104,0.097,0.113,0.107,0.109,0.119,0.120,0.123],
  [0.124,0.134,0.102,0.113,0.174,0.148,0.139,0.123,0.117,0.112,0.109,0.108,0.114],
  [0.119,0.101,0.083,0.071,0.125,0.181,0.211,0.173,0.133,0.115,0.113,0.120,0.111]];
const fmSe32 = [
  [0.020,0.025,0.020,0.025,0.018,0.020,0.018,0.020,0.022,0.018,0.020,0.020,0.028],
  [0.020,0.020,0.025,0.025,0.020,0.020,0.020,0.025,0.020,0.020,0.020,0.020,0.025],
  [0.025,0.020,0.025,0.025,0.025,0.020,0.020,0.020,0.020,0.020,0.020,0.020,0.020],
  [0.030,0.020,0.025,0.050,0.025,0.020,0.020,0.025,0.022,0.020,0.020,0.020,0.025],
  [0.020,0.020,0.020,0.030,0.040,0.035,0.045,0.020,0.020,0.020,0.020,0.022,0.025]];
const fmSe64 = [
  [0.022,0.020,0.025,0.030,0.018,0.025,0.025,0.030,0.025,0.020,0.020,0.020,0.025],
  [0.022,0.022,0.025,0.025,0.022,0.020,0.022,0.022,0.022,0.022,0.020,0.022,0.022],
  [0.020,0.020,0.020,0.020,0.020,0.020,0.020,0.020,0.020,0.020,0.020,0.020,0.020],
  [0.020,0.025,0.030,0.055,0.025,0.020,0.020,0.028,0.025,0.025,0.020,0.025,0.020],
  [0.020,0.020,0.025,0.035,0.028,0.030,0.030,0.028,0.025,0.025,0.020,0.020,0.020]];
const fmSe128 = [
  [0.022,0.022,0.027,0.030,0.025,0.020,0.020,0.025,0.020,0.018,0.022,0.025,0.030],
  [0.020,0.025,0.025,0.030,0.022,0.020,0.022,0.025,0.025,0.025,0.025,0.025,0.025],
  [0.020,0.020,0.025,0.030,0.025,0.027,0.025,0.025,0.022,0.022,0.022,0.022,0.022],
  [0.020,0.018,0.020,0.065,0.035,0.030,0.025,0.025,0.022,0.022,0.020,0.020,0.020],
  [0.020,0.020,0.020,0.025,0.025,0.025,0.030,0.020,0.020,0.020,0.020,0.020,0.025]];
const fmSe512 = [
  [0.025,0.020,0.033,0.030,0.025,0.020,0.020,0.025,0.025,0.022,0.020,0.020,0.025],
  [0.020,0.020,0.030,0.025,0.025,0.018,0.015,0.025,0.025,0.022,0.020,0.020,0.025],
  [0.020,0.020,0.018,0.025,0.020,0.020,0.020,0.020,0.018,0.018,0.020,0.020,0.020],
  [0.025,0.025,0.025,0.035,0.045,0.030,0.025,0.025,0.022,0.020,0.020,0.020,0.020],
  [0.020,0.020,0.020,0.020,0.025,0.025,0.030,0.025,0.025,0.020,0.020,0.020,0.022]];

// image onsets (grey vertical lines)
const onsetsMeg32 = [0, 132, 264, 396, 528];
const onsetsMeg64 = [0, 164, 328, 492, 656];
const onsetsMeg128 = [0, 228, 456, 684, 912];
const onsetsMeg512 = [0, 612, 1224, 1836, 2448];
const onsetsFmri32 = [0.56, 0.69, 0.82, 0.94, 1.06];
const onsetsFmri64 = [0.64, 0.77, 0.90, 1.03, 1.16];
const onsetsFmri128 = [0.59, 0.77, 0.95, 1.13, 1.31];
const onsetsFmri512 = [0.63, 1.12, 1.61, 2.10, 2.59];

// labels and ticks
const isiNames = ['ISI 32 ms', 'ISI 64 ms', 'ISI 128 ms', 'ISI 512 ms'];
const serNames = ['1', '2', '3', '4', '5'];
const spdNames = ['32 ms', '64 ms', '512 ms', '128 ms'];
const imgNames = ['Image 1', 'Image 2', 'Image 3', 'Image 4', 'Image 5', 'Image onsets'];
const ticksLocMegX = [-0.2, 0, 0.2, 0.4, 0.6, 0.8];
const ticksLocFmriX = [0, 1, 2, 3, 4, 5, 6, 7, 8];
const ticksLocY = [0.1, 0.2, 0.3, 0.4, 0.5, 0.6, 0.7, 0.8];
const ticksSeqMegX = [0, 0.1, 0.2, 0.3, 0.4, 0.5];
const ticksSeqMegY = [0.20, 0.25, 0.30, 0.35, 0.40, 0.45];
const ticksSeqFmriX = [0, 2, 4, 6, 8, 10];
const ticksSerFmriY = [0.06, 0.08, 0.10, 0.12, 0.14, 0.16, 0.18, 0.20];
const ticksSpdFmriY = [0.08, 0.10, 0.12, 0.14, 0.16, 0.18, 0.20];
const ticksFullMegX = [0, 1000, 2000];
const ticksFullMegY = [0.5, 1.0, 1.5, 2.0];
const ticksFullFmriX = [1, 3, 5, 7, 9, 11, 13];
const ticksFullFmriY = [0.05, 0.10, 0.15, 0.20];

// ---------------- chart ----------------
const FONT = 'DejaVu Sans';
const serCols = ['#F21A00', '#E68A00', '#EBC82A', '#78B48E', '#3B9AB2'];
const spdCols = ['#0A2553', '#464F6C', '#7C7B78', '#BCAF6F'];
const BLUE = '#1f77b4';

function seq(t0, dt, n) {
  const a = [];
  for (let i = 0; i < n; i++) a.push(Math.round((t0 + i * dt) * 1000) / 1000);
  return a;
}
const tLocMeg = seq(-0.2, 0.01, locMegAcc.length);
const tLocFmri = seq(-0.6, 0.1, locFmriAcc.length);
const tSeqMeg = seq(0, 0.01, serMeg1.length);
const tSeqFmri = seq(0, 0.5, serFmri1.length);

function rgba(hex, a) {
  const n = parseInt(hex.slice(1), 16);
  return 'rgba(' + ((n >> 16) & 255) + ',' + ((n >> 8) & 255) + ',' + (n & 255) + ',' + a + ')';
}

const series = [];
function addBand(gi, rows, color, a) {
  series.push({
    type: 'custom', xAxisIndex: gi, yAxisIndex: gi, clip: true, silent: true, z: 1,
    data: rows, encode: { x: 0, y: [1, 2] },
    renderItem: function (params, api) {
      if (params.dataIndex !== 0) return null;
      const up = rows.map(function (r) { return api.coord([r[0], r[2]]); });
      const dn = rows.map(function (r) { return api.coord([r[0], r[1]]); }).reverse();
      return {
        type: 'polygon', shape: { points: up.concat(dn) },
        style: { fill: rgba(color, a), stroke: rgba(color, a + 0.08), lineWidth: 1 }
      };
    }
  });
}
function addLine(gi, pts, color, w) {
  series.push({
    type: 'line', xAxisIndex: gi, yAxisIndex: gi, data: pts, symbol: 'none',
    silent: true, z: 3, lineStyle: { color: color, width: w }, itemStyle: { color: color }
  });
}
function addPairs(gi, pts, se, color, w, a) {
  const rows = pts.map(function (p, i) {
    const s = Array.isArray(se) ? se[i] : se;
    return [p[0], p[1] - s, p[1] + s];
  });
  addBand(gi, rows, color, a);
  addLine(gi, pts, color, w);
}
function addTrace(gi, xs, ys, se, color, w, a) {
  addPairs(gi, xs.map(function (x, i) { return [x, ys[i]]; }), se, color, w, a);
}
function addMarks(gi, marks, color, w, dash) {
  series.push({
    type: 'line', xAxisIndex: gi, yAxisIndex: gi, data: [], z: 2, silent: true,
    markLine: {
      silent: true, symbol: ['none', 'none'], label: { show: false }, animation: false,
      lineStyle: { color: color, width: w, type: dash || 'solid' }, data: marks
    }
  });
}

function fmt(d) {
  return function (v) { return (v < 0 ? '\u2212' : '') + Math.abs(v).toFixed(d); };
}
function axis(gi, min, max, ticks, d, fs) {
  return {
    type: 'value', gridIndex: gi, min: min, max: max,
    splitLine: { show: false },
    axisLine: { show: true, onZero: false, lineStyle: { color: '#222', width: 2.5 } },
    axisTick: { show: true, length: 10, customValues: ticks, lineStyle: { color: '#222', width: 2 } },
    axisLabel: { customValues: ticks, formatter: fmt(d), fontSize: fs, fontFamily: FONT, color: '#111', margin: 10 }
  };
}

const grids = [
  { left: 256, top: 433, width: 800, height: 480 },
  { left: 268, top: 1053, width: 850, height: 505 },
  { left: 1308, top: 429, width: 828, height: 489 },
  { left: 2281, top: 429, width: 829, height: 489 },
  { left: 1308, top: 1076, width: 828, height: 490 },
  { left: 2281, top: 1075, width: 829, height: 491 }
];
for (let k = 0; k < 4; k++) grids.push({ left: 293 + k * 768.6, top: 1896, width: 608, height: 392 });
for (let k = 0; k < 4; k++) grids.push({ left: 289 + k * 769, top: 2476, width: 633, height: 394 });

const xAxes = [
  axis(0, -0.25, 0.85, ticksLocMegX, 1, 24),
  axis(1, -0.6, 8, ticksLocFmriX, 0, 24),
  axis(2, -0.025, 0.525, ticksSeqMegX, 1, 24),
  axis(3, -0.025, 0.525, ticksSeqMegX, 1, 24),
  axis(4, -0.5, 10.5, ticksSeqFmriX, 0, 24),
  axis(5, -0.5, 10.5, ticksSeqFmriX, 0, 24)
];
const yAxes = [
  axis(0, 0.0375, 0.8, ticksLocY, 1, 24),
  axis(1, 0.0375, 0.8, ticksLocY, 1, 24),
  axis(2, 0.1617, 0.4808, ticksSeqMegY, 2, 24),
  axis(3, 0.1522, 0.4795, ticksSeqMegY, 2, 24),
  axis(4, 0.0463, 0.2136, ticksSerFmriY, 2, 24),
  axis(5, 0.0716, 0.205, ticksSpdFmriY, 2, 24)
];
for (let k = 0; k < 4; k++) {
  xAxes.push(axis(6 + k, -348, 2908, ticksFullMegX, 0, 28));
  yAxes.push(axis(6 + k, 0.5, 2.3, ticksFullMegY, 1, 28));
}
for (let k = 0; k < 4; k++) {
  xAxes.push(axis(10 + k, 0.4, 13.6, ticksFullFmriX, 0, 28));
  yAxes.push(axis(10 + k, 0.0394, 0.2494, ticksFullFmriY, 2, 28));
}

// A) localizer
addMarks(0, [{ xAxis: 0 }], 'rgba(255,0,0,0.2)', 11);
addMarks(0, [{ yAxis: 0.2 }], 'rgba(0,0,0,0.5)', 3, [12, 6]);
addTrace(0, tLocMeg, locMegAcc, locMegSe, BLUE, 3.5, 0.2);
addMarks(1, [{ xAxis: 0 }], 'rgba(255,0,0,0.2)', 11);
addMarks(1, [{ yAxis: 0.2 }], 'rgba(0,0,0,0.5)', 3, [12, 6]);
addTrace(1, tLocFmri, locFmriAcc, locFmriSe, BLUE, 3.5, 0.2);

// B) sequence trials
const serMeg = [serMeg1, serMeg2, serMeg3, serMeg4, serMeg5];
const serFmri = [serFmri1, serFmri2, serFmri3, serFmri4, serFmri5];
const spdMeg = [spdMeg32, spdMeg64, spdMeg512, spdMeg128];
const spdFmri = [spdFmri32, spdFmri64, spdFmri512, spdFmri128];
serMeg.forEach(function (ys, s) { addTrace(2, tSeqMeg, ys, serMegSe[s], serCols[s], 3, 0.2); });
spdMeg.forEach(function (ys, s) { addTrace(3, tSeqMeg, ys, spdMegSe[s], spdCols[s], 3, 0.2); });
serFmri.forEach(function (ys, s) { addTrace(4, tSeqFmri, ys, serFmriSe[s], serCols[s], 3, 0.2); });
spdFmri.forEach(function (ys, s) { addTrace(5, tSeqFmri, ys, spdFmriSe[s], spdCols[s], 3, 0.2); });

// C) full sequence
const fullMeg = [
  [isi32Img1, isi32Img2, isi32Img3, isi32Img4, isi32Img5],
  [isi64Img1, isi64Img2, isi64Img3, isi64Img4, isi64Img5],
  [isi128Img1, isi128Img2, isi128Img3, isi128Img4, isi128Img5],
  [isi512Img1, isi512Img2, isi512Img3, isi512Img4, isi512Img5]];
const onsetsMeg = [onsetsMeg32, onsetsMeg64, onsetsMeg128, onsetsMeg512];
const fullFmri = [fm32, fm64, fm128, fm512];
const fullFmriSe = [fmSe32, fmSe64, fmSe128, fmSe512];
const onsetsFmri = [onsetsFmri32, onsetsFmri64, onsetsFmri128, onsetsFmri512];
for (let k = 0; k < 4; k++) {
  addMarks(6 + k, onsetsMeg[k].map(function (v) { return { xAxis: v }; }), 'rgba(140,140,140,0.55)', 1.5);
  fullMeg[k].forEach(function (pts, s) { addPairs(6 + k, pts, cMegSe, serCols[s], 3.5, 0.18); });
  addMarks(10 + k, onsetsFmri[k].map(function (v) { return { xAxis: v }; }), 'rgba(140,140,140,0.55)', 1.5);
  fullFmri[k].forEach(function (ys, s) { addTrace(10 + k, trFmri, ys, fullFmriSe[k][s], serCols[s], 3.5, 0.2); });
}

// ---------------- text, legends ----------------
const g = [];
function txt(x, y, s, fs, o) {
  o = o || {};
  g.push({
    type: 'text', x: x, y: y, z: 100, rotation: o.rot || 0, silent: true,
    style: {
      text: s, fontSize: fs, fontFamily: FONT, fontWeight: o.bold ? 'bold' : 'normal', fill: '#000',
      align: o.align || 'center', verticalAlign: 'middle'
    }
  });
}
function seg(x1, y1, x2, y2, color, w, dash) {
  g.push({ type: 'line', z: 100, silent: true, shape: { x1: x1, y1: y1, x2: x2, y2: y2 },
    style: { stroke: color, lineWidth: w, lineDash: dash || null } });
}
function box(x, y, w, h, fill, stroke, r) {
  g.push({ type: 'rect', z: 99, silent: true, shape: { x: x, y: y, width: w, height: h, r: r || 0 },
    style: { fill: fill, stroke: stroke, lineWidth: stroke ? 2 : 0 } });
}
const ROT = Math.PI / 2;

txt(21, 43, 'FASTIMAGES decoding properties', 90, { bold: true, align: 'left' });
txt(31, 247, 'A) "slow" images during localizer', 58, { bold: true, align: 'left' });
txt(1199, 243, 'B) "fast" images during sequence trials', 58, { bold: true, align: 'left' });
txt(-2, 1743, 'C) Full sequence presentation', 58, { bold: true, align: 'left' });

[[694, 689, 'MEG', 'n=30'], [1325, 1325, 'fMRI', 'n=40'], [2057, 2048, 'MEG', 'n=30'], [2697, 2697, 'fMRI', 'n=40']]
  .forEach(function (r) {
    txt(58, r[0], r[2], 62, { bold: true, rot: ROT });
    txt(118, r[1], r[3], 43, { rot: ROT });
  });

// subplot titles and axis names
txt(656, 405, 'Localizer decoding accuracy (MEG)', 36);
txt(693, 1025, 'Localizer decoding accuracy (fMRI)', 36);
txt(1722, 405, 'by Serial Position (MEG)', 36);
txt(2695, 405, 'by Interval Speed (MEG)', 36);
txt(1722, 1052, 'by Serial Position (fMRI)', 36);
txt(2695, 1052, 'by Interval Speed (fMRI)', 36);
txt(656, 971, 'seconds after stim onset', 27.5);
txt(693, 1620, 'seconds after stim onset', 27.5);
txt(182, 673, 'accuracy', 27.5, { rot: ROT });
txt(182, 1305, 'accuracy', 27.5, { rot: ROT });
[[1722, 978], [2695, 978], [1722, 1627], [2695, 1627]].forEach(function (p) {
  txt(p[0], p[1], 'time after stim onset (s)', 27.5);
});
[[1215, 673], [2187, 673], [1215, 1321], [2187, 1320]].forEach(function (p) {
  txt(p[0], p[1], 'probability (normalized)', 27.5, { rot: ROT });
});
for (let k = 0; k < 4; k++) {
  const cm = 293 + k * 768.6 + 304, cf = 289 + k * 769 + 316.5;
  txt(cm, 1864, isiNames[k], 47);
  txt(cm, 2361, 'TR after stim onset', 34);
  txt(cf, 2445, isiNames[k], 47);
  txt(cf, 2941, 'ms after stim onset', 34);
}
txt(196, 2092, 'normalized probability', 32, { rot: ROT });
txt(176, 2673, 'normalized probability', 32, { rot: ROT });

// legends of panel A
function locLegend(bx, by, bw, bh, hx1, hx2, tx, ys, fs) {
  box(bx, by, bw, bh, 'rgba(255,255,255,0.85)', '#cccccc', 6);
  seg(hx1, ys[0], hx2, ys[0], BLUE, 3.5);
  g.push({ type: 'rect', z: 100, silent: true, shape: { x: hx1, y: ys[1] - 9, width: hx2 - hx1, height: 18 },
    style: { fill: rgba(BLUE, 0.2), stroke: rgba(BLUE, 0.3), lineWidth: 1.5 } });
  seg(hx1, ys[2], hx2, ys[2], 'rgba(0,0,0,0.5)', 3, [10, 5]);
  seg(hx1, ys[3], hx2, ys[3], 'rgba(255,0,0,0.2)', 11);
  ['decoding acc.', 'SE (n=30)', 'chance level', 'image onset'].forEach(function (s, i) {
    txt(tx, ys[i], s, fs, { align: 'left' });
  });
}
locLegend(808, 440, 240, 145, 821, 862, 885, [461, 494, 527, 560], 22);
locLegend(852, 1062, 258, 147, 864, 909, 930, [1083, 1116, 1151, 1186], 22.5);

// legends of panel B
box(1873, 438, 250, 238, 'rgba(255,255,255,0.85)', '#cccccc', 6);
txt(1999, 467, 'serial_position', 31);
serNames.forEach(function (s, i) {
  const y = 506 + i * 37.3;
  seg(1951, y, 2005, y, serCols[i], 3.5);
  txt(2026, y, s, 26, { align: 'left' });
});
box(2811, 438, 283, 203, 'rgba(255,255,255,0.85)', '#cccccc', 6);
txt(2952, 467, 'sequence speed', 31);
spdNames.forEach(function (s, i) {
  const y = 506 + i * 37.3;
  seg(2859, y, 2914, y, spdCols[i], 3.5);
  txt(2935, y, s, 26, { align: 'left' });
});

// legend of panel C
txt(1881, 1740, 'Serial position', 34);
imgNames.forEach(function (s, i) {
  const x = 1151 + i * 240.2;
  seg(x, 1786, x + 58, 1786, i < 5 ? serCols[i] : '#cfcfcf', 3.5);
  txt(x + 79, 1786, s, 28, { align: 'left' });
});

const chart = echarts.init(document.getElementById('main'));
chart.setOption({
  backgroundColor: '#ffffff',
  animation: false,
  textStyle: { fontFamily: FONT },
  grid: grids,
  xAxis: xAxes,
  yAxis: yAxes,
  series: series,
  graphic: { elements: g }
});
</script>
</body>
</html>
